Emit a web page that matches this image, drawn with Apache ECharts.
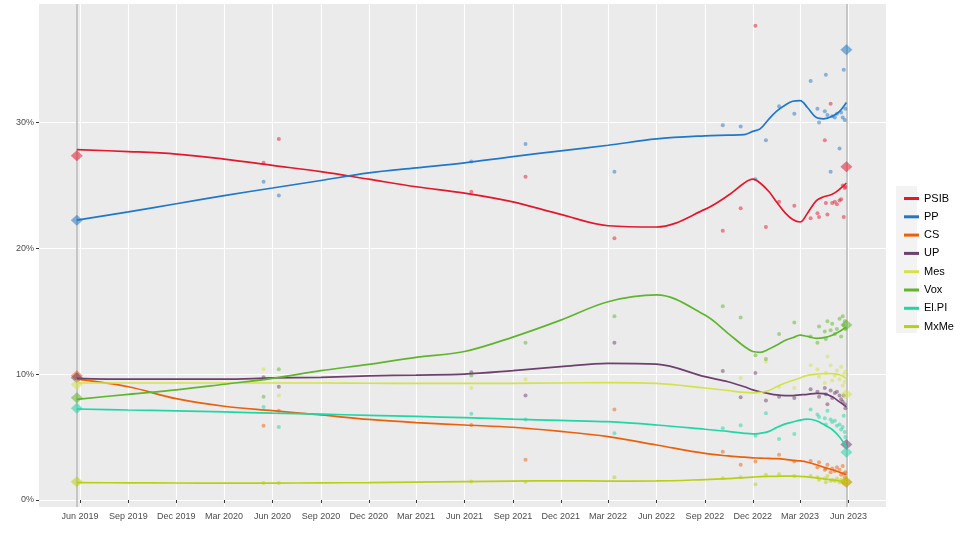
<!DOCTYPE html>
<html>
<head>
<meta charset="utf-8">
<title>Sondeos Illes Balears</title>
<script src="https://cdn.jsdelivr.net/npm/echarts@6/dist/echarts.min.js"></script>
<style>
  html, body { margin: 0; padding: 0; background: #fff; }
  #main { width: 960px; height: 534px; }
</style>
</head>
<body>
<div id="main"></div>
<script>
// tendencia (curvas suavizadas)
var trendDates = ['2019-05-26', '2019-09-01', '2019-12-01', '2020-03-01', '2020-06-01', '2020-09-01',
  '2020-12-01', '2021-03-01', '2021-06-01', '2021-09-01', '2021-12-01', '2022-03-01', '2022-06-01',
  '2022-09-01', '2022-10-15', '2022-11-15', '2022-12-01', '2022-12-15', '2023-01-01', '2023-01-15',
  '2023-02-01', '2023-02-15', '2023-03-01', '2023-03-15', '2023-04-01', '2023-04-15', '2023-05-01',
  '2023-05-15', '2023-05-28'];
var trendPSIB = [27.85, 27.7, 27.5, 27.1, 26.6, 26.1, 25.5, 24.9, 24.4, 23.7, 22.7, 21.8, 21.7,
  23.1, 24.2, 25.2, 25.5, 25.2, 24.5, 23.7, 22.8, 22.3, 22.1, 22.8, 23.8, 24.1, 24.3, 24.7, 25.2];
var trendPP = [22.25, 22.9, 23.55, 24.2, 24.8, 25.4, 26.0, 26.4, 26.8, 27.3, 27.75, 28.2, 28.7,
  28.95, 29.0, 29.05, 29.3, 29.5, 30.3, 30.9, 31.4, 31.7, 31.75, 31.2, 30.4, 30.3, 30.5, 30.9, 31.6];
var trendCS = [9.6, 9.0, 8.05, 7.45, 7.1, 6.76, 6.4, 6.15, 5.96, 5.78, 5.45, 5.03, 4.37,
  3.7, 3.5, 3.4, 3.35, 3.33, 3.3, 3.28, 3.22, 3.15, 3.1, 3.0, 2.8, 2.6, 2.4, 2.2, 2.0];
var trendUP = [9.67, 9.6, 9.6, 9.6, 9.7, 9.75, 9.86, 9.93, 10.0, 10.28, 10.6, 10.86, 10.8,
  9.8, 9.4, 9.0, 8.75, 8.6, 8.45, 8.35, 8.3, 8.3, 8.35, 8.4, 8.48, 8.45, 8.2, 7.8, 7.4];
var trendMes = [9.3, 9.3, 9.3, 9.3, 9.3, 9.3, 9.28, 9.27, 9.27, 9.27, 9.3, 9.33, 9.27,
  8.9, 8.7, 8.55, 8.52, 8.55, 8.7, 9.0, 9.3, 9.5, 9.7, 9.9, 10.0, 10.05, 10.05, 9.95, 9.65];
var trendVox = [8.0, 8.4, 8.75, 9.2, 9.67, 10.28, 10.78, 11.34, 11.8, 12.95, 14.3, 15.76, 16.3,
  14.7, 13.25, 12.2, 11.8, 11.74, 12.0, 12.3, 12.7, 12.9, 13.1, 13.0, 12.85, 12.9, 13.1, 13.4, 13.75];
var trendElPI = [7.23, 7.15, 7.08, 7.0, 6.9, 6.82, 6.73, 6.64, 6.54, 6.42, 6.32, 6.22, 5.96,
  5.62, 5.45, 5.3, 5.25, 5.3, 5.45, 5.75, 6.05, 6.2, 6.35, 6.42, 6.3, 6.0, 5.6, 5.0, 4.2];
var trendMxMe = [1.38, 1.36, 1.35, 1.34, 1.34, 1.36, 1.38, 1.42, 1.46, 1.5, 1.52, 1.5, 1.51,
  1.62, 1.7, 1.78, 1.82, 1.85, 1.87, 1.88, 1.9, 1.9, 1.88, 1.84, 1.76, 1.68, 1.6, 1.52, 1.45];

// sondeos (puntos)
var pollDates = ['2020-05-15', '2020-06-13', '2021-06-14', '2021-09-25', '2022-03-13', '2022-10-05',
  '2022-11-08', '2022-12-06', '2022-12-26', '2023-01-20', '2023-02-18', '2023-03-21', '2023-04-03',
  '2023-04-06', '2023-04-17', '2023-04-19', '2023-04-22', '2023-04-28', '2023-05-01', '2023-05-06',
  '2023-05-10', '2023-05-15', '2023-05-18', '2023-05-21', '2023-05-23', '2023-05-25', '2023-05-26'];
var pollPSIB = [26.8, 28.7, 24.5, 25.7, 20.8, 21.4, 23.2, 37.7, 21.7, 23.7, 23.4, 22.4, 22.8,
  22.5, 28.6, 23.6, 22.7, 31.5, 23.6, 23.7, 23.5, 23.8, 23.9, 25.0, 22.5, 24.8, 24.9];
var pollPP = [25.3, 24.2, 26.9, 28.3, 26.1, 29.8, 29.7, 25.5, 28.6, 31.3, 30.7, 33.3, 31.1,
  30.0, 30.9, 33.8, 30.6, 26.1, 30.5, 30.4, 30.7, 27.95, 30.8, 30.4, 34.2, 30.2, 31.1];
var pollCS = [5.9, 7.1, 5.96, 3.2, 7.2, 3.84, 2.8, 3.05, null, 3.6, 3.05, 3.1, 2.6,
  3.0, 2.4, 2.5, 2.8, 2.2, 2.5, 2.3, 2.6, 2.4, 2.0, 2.7, 2.1, 1.8, 2.2];
var pollUP = [9.75, 9.0, 10.15, 8.3, 12.5, 10.25, 8.16, 10.1, 7.9, 8.2, 8.1, 8.8, 8.6,
  8.2, 8.9, 8.4, 7.6, 8.7, 8.1, 8.5, 8.6, 8.3, 8.0, 7.8, 8.3, 7.6, 7.3];
var pollMes = [10.4, 8.3, 8.9, 9.6, null, null, 9.7, null, 11.0, 9.0, 8.9, 10.7, 10.4,
  9.8, 9.3, 10.1, 11.4, 10.7, 9.5, 9.9, 10.3, 9.6, 10.6, 9.1, 10.0, 9.4, 10.2];
var pollVox = [8.2, 10.4, 9.9, 12.5, 14.6, 15.4, 14.5, 11.5, 11.2, 13.2, 14.1, 13.0, 12.5,
  13.8, 13.4, 12.8, 14.2, 13.5, 14.0, 13.2, 13.6, 14.4, 13.0, 14.6, 13.9, 14.2, 13.6];
var pollElPI = [7.4, 5.8, 6.86, 6.4, 5.3, 5.7, 5.94, 5.1, 6.9, 4.85, 5.25, 7.2, 6.8,
  6.6, 6.5, 6.0, 7.1, 6.4, 6.2, 6.3, 5.9, 6.0, 5.6, 5.8, 6.7, 5.4, 5.0];
var pollMxMe = [1.35, 1.35, 1.46, 1.45, 1.8, 1.72, 1.8, 1.25, 2.0, 2.05, 1.9, 1.9, 1.8,
  1.6, 1.7, 1.4, 1.9, 1.5, 1.6, 1.5, 1.7, 1.4, 1.6, 1.5, 1.3, 1.5, 1.6];

// elecciones (rombos)
var electionDates = ['2019-05-26', '2023-05-28'];
var electionPSIB = [27.37, 26.5];
var electionPP = [22.23, 35.8];
var electionCS = [9.88, 1.4];
var electionUP = [9.72, 4.4];
var electionMes = [9.18, 8.4];
var electionVox = [8.12, 13.9];
var electionElPI = [7.29, 3.8];
var electionMxMe = [1.44, 1.44];

// etiquetas del eje x (trimestrales)
var tickDates = ['2019-06-01', '2019-09-01', '2019-12-01', '2020-03-01', '2020-06-01', '2020-09-01',
  '2020-12-01', '2021-03-01', '2021-06-01', '2021-09-01', '2021-12-01', '2022-03-01', '2022-06-01',
  '2022-09-01', '2022-12-01', '2023-03-01', '2023-06-01'];
var yTicks = [0, 10, 20, 30];
var monthNames = ['Jan', 'Feb', 'Mar', 'Apr', 'May', 'Jun', 'Jul', 'Aug', 'Sep', 'Oct', 'Nov', 'Dec'];

var DAY = 86400000;
function ts(s) {
  var p = s.split('-');
  return Date.UTC(+p[0], +p[1] - 1, +p[2]);
}
function zip(dates, vals) {
  var out = [];
  for (var i = 0; i < dates.length; i++) {
    if (vals[i] != null) out.push([ts(dates[i]), vals[i]]);
  }
  return out;
}

var parties = [
  { name: 'PSIB', color: '#e3182d', trend: trendPSIB, polls: pollPSIB, elec: electionPSIB },
  { name: 'PP', color: '#1f78c8', trend: trendPP, polls: pollPP, elec: electionPP },
  { name: 'CS', color: '#eb6109', trend: trendCS, polls: pollCS, elec: electionCS },
  { name: 'UP', color: '#6e406e', trend: trendUP, polls: pollUP, elec: electionUP },
  { name: 'Mes', color: '#d4e24a', trend: trendMes, polls: pollMes, elec: electionMes },
  { name: 'Vox', color: '#5fb52e', trend: trendVox, polls: pollVox, elec: electionVox },
  { name: 'El.PI', color: '#20d6a5', trend: trendElPI, polls: pollElPI, elec: electionElPI },
  { name: 'MxMe', color: '#b9cf16', trend: trendMxMe, polls: pollMxMe, elec: electionMxMe }
];

var series = [];
// lineas verticales de elecciones
series.push({
  name: 'elecciones',
  type: 'line',
  data: [],
  silent: true,
  z: 1,
  markLine: {
    z: 1,
    symbol: 'none',
    silent: true,
    label: { show: false },
    lineStyle: { color: '#c6c6c6', width: 2, type: 'solid' },
    data: electionDates.map(function (d) { return { xAxis: ts(d) }; })
  }
});
parties.forEach(function (p) {
  series.push({
    name: p.name,
    type: 'line',
    data: zip(trendDates, p.trend),
    smooth: 0.35,
    showSymbol: false,
    symbol: 'none',
    z: 4,
    color: p.color,
    lineStyle: { width: 1.7, color: p.color }
  });
});
parties.forEach(function (p) {
  series.push({
    name: p.name + ' sondeos',
    type: 'scatter',
    data: zip(pollDates, p.polls),
    symbolSize: 4,
    z: 2,
    itemStyle: { color: p.color, opacity: 0.5 }
  });
  series.push({
    name: p.name + ' elecciones',
    type: 'scatter',
    data: zip(electionDates, p.elec),
    symbol: 'diamond',
    symbolSize: [12, 11],
    z: 3,
    itemStyle: { color: p.color, opacity: 0.55 }
  });
});

var myChart = echarts.init(document.getElementById('main'));
var option = {
  animation: false,
  textStyle: { fontFamily: 'Liberation Sans, Arial, sans-serif' },
  grid: {
    left: 39, right: 74, top: 4, bottom: 27,
    show: true, backgroundColor: '#ebebeb', borderWidth: 0
  },
  graphic: [{
    type: 'rect',
    shape: { x: 896, y: 186, width: 21, height: 147 },
    style: { fill: '#f3f3f3' },
    silent: true,
    z: -1
  }],
  legend: {
    data: parties.map(function (p) { return p.name; }),
    orient: 'vertical',
    left: 899,
    top: 186.5,
    icon: 'rect',
    itemWidth: 15,
    itemHeight: 3,
    itemGap: 4.3,
    selectedMode: false,
    textStyle: { color: '#000', fontSize: 11, lineHeight: 14, fontFamily: 'Liberation Sans, Arial, sans-serif' }
  },
  xAxis: {
    type: 'value',
    min: ts('2019-06-01') - 77.9 * DAY,
    max: ts('2023-06-01') + 71.3 * DAY,
    axisLine: { show: false },
    axisTick: {
      show: true, length: 3, inside: false,
      lineStyle: { color: '#333' },
      customValues: tickDates.map(ts)
    },
    axisLabel: {
      customValues: tickDates.map(ts),
      color: '#4d4d4d',
      fontSize: 9,
      margin: 5,
      formatter: function (v) {
        var d = new Date(v);
        return monthNames[d.getUTCMonth()] + ' ' + d.getUTCFullYear();
      }
    },
    splitLine: { show: true, lineStyle: { color: '#ffffff', width: 1.1 } }
  },
  yAxis: {
    type: 'value',
    min: -0.56,
    max: 39.43,
    axisLine: { show: false },
    axisTick: {
      show: true, length: 3,
      lineStyle: { color: '#333' },
      customValues: yTicks
    },
    axisLabel: {
      customValues: yTicks,
      color: '#4d4d4d',
      fontSize: 9,
      margin: 5,
      formatter: '{value}%'
    },
    splitLine: { show: true, lineStyle: { color: '#ffffff', width: 1.1 } }
  },
  series: series
};
myChart.setOption(option);
</script>
</body>
</html>
